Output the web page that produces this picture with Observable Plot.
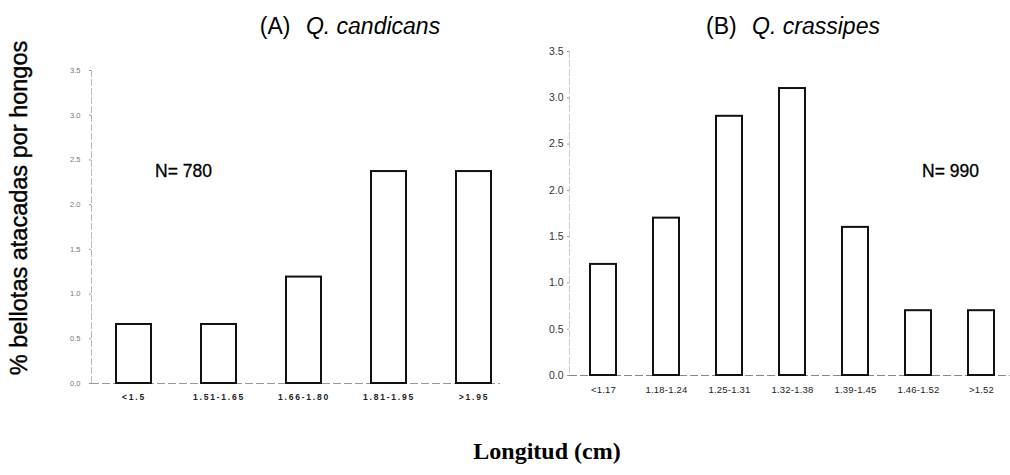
<!DOCTYPE html>
<html>
<head>
<meta charset="utf-8">
<script src="https://cdn.jsdelivr.net/npm/d3@7"></script>
<script src="https://cdn.jsdelivr.net/npm/@observablehq/plot@0.6"></script>
<style>
  html, body { margin: 0; padding: 0; background: #fff; }
  #wrap { position: relative; width: 1010px; height: 475px; font-family: "Liberation Sans", Arial, sans-serif; color: #000; overflow: hidden; }
  .abs { position: absolute; white-space: nowrap; }
  .panel { position: absolute; top: 0; }
  .title { font-size: 23px; transform: translateX(-50%); }
  .title i { margin-left: 9px; }
  .ylab { font-size: 23.5px; transform: translate(-50%, -50%) rotate(-90deg); left: 19px; top: 208px; -webkit-text-stroke: 0.4px #000; }
  .n { font-size: 17.5px; -webkit-text-stroke: 0.3px #000; }
  .xlab { font-family: "Liberation Serif", "Times New Roman", serif; font-weight: bold; font-size: 24px; transform: translateX(-50%); }
  #pa g[aria-label="x-axis tick label"] text { letter-spacing: 1.8px; }
  #pb g[aria-label="x-axis tick label"] text { letter-spacing: 0.2px; }
</style>
</head>
<body>
<div id="wrap">
  <div class="panel" id="pa" style="left:0"></div>
  <div class="panel" id="pb" style="left:505px"></div>
</div>
<script>
// Panel A: Q. candicans
const catsA = ["<1.5", "1.51-1.65", "1.66-1.80", "1.81-1.95", ">1.95"];
const valsA = [0.66, 0.66, 1.19, 2.37, 2.37];
// Panel B: Q. crassipes
const catsB = ["<1.17", "1.18-1.24", "1.25-1.31", "1.32-1.38", "1.39-1.45", "1.46-1.52", ">1.52"];
const valsB = [1.2, 1.7, 2.8, 3.1, 1.6, 0.7, 0.7];
const yTicks = [0, 0.5, 1.0, 1.5, 2.0, 2.5, 3.0, 3.5];

const titleA = "Q. candicans", titleB = "Q. crassipes";
const nA = "N= 780", nB = "N= 990";
const yLabel = "% bellotas atacadas por hongos";
const xLabel = "Longitud (cm)";

const dataA = catsA.map((c, i) => ({cat: c, v: valsA[i]}));
const dataB = catsB.map((c, i) => ({cat: c, v: valsB[i]}));

const plotA = Plot.plot({
  width: 505, height: 410,
  marginLeft: 91, marginRight: 5, marginTop: 70, marginBottom: 27,
  x: {domain: catsA, paddingInner: 0.59, paddingOuter: 0.2, align: 0.735},
  y: {domain: [0, 3.5]},
  style: {fontFamily: "Liberation Sans, Arial, sans-serif", background: "transparent"},
  marks: [
    Plot.frame({anchor: "left", stroke: "#bbb", strokeDasharray: "6,3"}),
    Plot.ruleY([0], {stroke: "#999", strokeDasharray: "8,3"}),
    Plot.barY(dataA, {x: "cat", y: "v", fill: "white", stroke: "#111", strokeWidth: 2}),
    Plot.axisY({ticks: yTicks, tickFormat: d3.format(".1f"), tickSize: 2, tickPadding: 9, stroke: "#999", fill: "#777", fontSize: 7.5, label: null}),
    Plot.axisX({tickSize: 0, tickPadding: 10, fill: "#222", fontSize: 8.5, fontWeight: "bold", label: null})
  ]
});
document.getElementById("pa").appendChild(plotA);

const plotB = Plot.plot({
  width: 505, height: 410,
  marginLeft: 64, marginRight: 0, marginTop: 51, marginBottom: 35,
  x: {domain: catsB, paddingInner: 0.592, paddingOuter: 0.259, align: 0.576},
  y: {domain: [0, 3.5]},
  style: {fontFamily: "Liberation Sans, Arial, sans-serif", background: "transparent"},
  marks: [
    Plot.frame({anchor: "left", stroke: "#ccc", strokeDasharray: "6,3"}),
    Plot.ruleY([0], {stroke: "#888", strokeDasharray: "8,3"}),
    Plot.barY(dataB, {x: "cat", y: "v", fill: "white", stroke: "#111", strokeWidth: 2}),
    Plot.axisY({ticks: yTicks, tickFormat: d3.format(".1f"), tickSize: 2, tickPadding: 4, stroke: "#999", fill: "#333", fontSize: 10.5, label: null}),
    Plot.axisX({tickSize: 0, tickPadding: 11, fill: "#222", fontSize: 9.5, label: null})
  ]
});
document.getElementById("pb").appendChild(plotB);

// Overlay texts
const wrap = document.getElementById("wrap");
function addText(cls, html, left, top) {
  const d = document.createElement("div");
  d.className = "abs " + cls;
  d.innerHTML = html;
  if (left != null) d.style.left = left + "px";
  if (top != null) d.style.top = top + "px";
  wrap.appendChild(d);
  return d;
}
addText("title", "(A) <i>" + titleA + "</i>", 350, 13);
addText("title", "(B) <i>" + titleB + "</i>", 793, 13);
addText("n", nA, 155, 161);
addText("n", nB, 922, 161);
addText("ylab", yLabel);
addText("xlab", xLabel, 547, 438);
</script>
</body>
</html>
